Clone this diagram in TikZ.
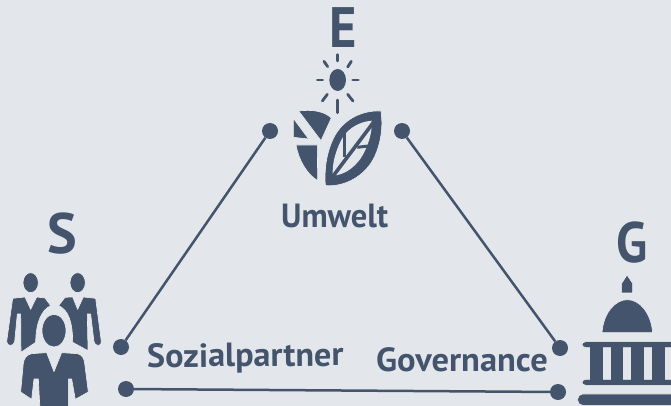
\documentclass[tikz,border=0pt]{standalone}
\usepackage{fontspec}
\setmainfont{PT Sans}
\definecolor{bgc}{HTML}{E3E7EB}
\definecolor{ink}{HTML}{43546C}
\definecolor{halo}{HTML}{EDF0F2}
\tikzset{
  dot/.style={circle,fill=ink,inner sep=0pt,minimum size=16pt},
  link/.style={draw=ink,line width=2.5pt},
  lab/.style={inner sep=0pt,text=ink,anchor=base west,font=\fontsize{33.5}{33.5}\selectfont\bfseries},
  letter/.style={inner sep=0pt,text=ink,anchor=base west,font=\fontsize{57}{57}\selectfont\bfseries},
  solid ink/.style={fill=ink,draw=halo,line width=0.6pt,line join=round},
  ray/.style={draw=ink,line width=2.8pt,line cap=round},
  zoomed/.style={x=0.3333pt,y=-0.3333pt}
}
\begin{document}
\begin{tikzpicture}[x=1pt,y=-1pt]
\fill[bgc] (0,0) rectangle (671,406);
\useasboundingbox (0,0) rectangle (671,406);
\clip (0,0) rectangle (671,406);
% connectors
\node[dot] (el) at (270,131) {};
\node[dot] (er) at (402,131) {};
\node[dot] (sa) at (121,347) {};
\node[dot] (sb) at (126,389) {};
\node[dot] (ga) at (560,348) {};
\node[dot] (gb) at (558,392) {};
\draw[link] (el) -- (sa);
\draw[link] (er) -- (ga);
\draw[link] (sb) -- (gb);
% letters
\node[letter] (le) at (329,48) {\scalebox{0.92}[1]{E}};
\node[letter] (ls) at (47,253) {\scalebox{0.98}[1]{S}};
\node[letter] (lg) at (616,262) {\scalebox{0.9}[1]{G}};
% labels
\node[lab] (umw) at (281,227) {\scalebox{0.97}[1]{Umwelt}};
\node[lab,rotate=0.5] (soz) at (147,367.5) {\scalebox{1.02}[1]{Sozialpartner}};
\node[lab] (gov) at (376,371) {\scalebox{1.03}[1]{Governance}};
% E icon
\begin{scope}[shift={(270,0)},zoomed]
\fill[ink] (203,240) ellipse (25 and 33);
\draw[ray] (203,164) -- (203,183);
\draw[ray] (203,300) -- (203,338);
\draw[ray] (142,240) -- (158,240);
\draw[ray] (248,240) -- (265,240);
\draw[ray] (162,184) -- (173,200);
\draw[ray] (244,184) -- (233,201);
\draw[ray] (172,283) -- (157,303);
\draw[ray] (233,283) -- (249,303);
\path[solid ink] (86,333) .. controls (125,328) and (162,333) .. (184,354) -- (153,422) -- cycle;
\path[solid ink] (70,355) -- (116,417) -- (70,412) -- cycle;
\path[solid ink] (78,435) -- (142,435) -- (143,542) .. controls (110,522) and (86,480) .. cycle;
\path[solid ink] (333,333) .. controls (270,330) and (213,363) .. (188,420) .. controls (168,465) and (163,510) .. (166,557) .. controls (225,562) and (287,527) .. (314,470) .. controls (332,430) and (340,385) .. cycle;
\fill[bgc] (305,362) .. controls (262,366) and (225,390) .. (208,432) .. controls (195,462) and (187,490) .. (188,527) .. controls (225,526) and (265,497) .. (285,452) .. controls (297,427) and (307,395) .. cycle;
\draw[ink,line width=3.6pt] (188,530) -- (312,365);
\draw[ink,line width=3pt] (225,392) -- (225,472);
\draw[ink,line width=3pt] (262,442) -- (305,437);
\end{scope}
% S icon
\begin{scope}[shift={(0,210)},zoomed]
\path[solid ink] (92,218) ellipse (23 and 30);
\path[solid ink] (233,218) ellipse (23 and 30);
\path[solid ink] (38,265) -- (75,261) -- (92,298) -- (110,261) -- (135,264) -- (152,287) .. controls (125,300) and (108,335) .. (107,397) -- (63,427) -- (62,312) -- (52,312) -- (44,395) .. controls (42,410) and (20,410) .. (20,395) -- cycle;
\path[solid ink] (287,265) -- (250,261) -- (233,298) -- (218,261) -- (195,262) -- (176,287) .. controls (205,300) and (218,335) .. (218,397) -- (264,422) -- (262,312) -- (272,312) -- (282,395) .. controls (284,410) and (306,410) .. (304,395) -- cycle;
\path[fill=bgc] (162,362) ellipse (44 and 58);
\path[solid ink] (162,362) ellipse (36 and 49);
\path[solid ink] (95,431) -- (140,428) -- (162,485) -- (185,428) -- (232,431) .. controls (247,434) and (252,445) .. (254,460) -- (265,546) -- (226,568) -- (215,507) -- (205,507) -- (205,600) -- (120,600) -- (115,507) -- (102,507) -- (95,568) -- (62,546) -- (70,460) .. controls (72,445) and (80,434) .. cycle;
\end{scope}
% G icon
\begin{scope}[shift={(540,220)},zoomed]
\path[solid ink] (261,165) -- (278,190) -- (278,219) -- (245,219) -- (245,190) -- cycle;
\path[solid ink] (186,338) .. controls (190,280) and (225,239) .. (262,239) .. controls (300,239) and (333,280) .. (338,338) -- cycle;
\path[solid ink,rounded corners=4pt] (125,365) -- (420,365) -- (420,383) -- (125,383) -- cycle;
\path[solid ink,rounded corners=4pt] (125,478) -- (420,478) -- (420,496) -- (125,496) -- cycle;
\path[solid ink,rounded corners=5pt] (113,522) -- (420,522) -- (420,556) -- (113,556) -- cycle;
\foreach \a/\b in {150/190,212/250,272/312,335/375}
  \fill[ink] (\a,381) rectangle (\b,480);
\end{scope}
\end{tikzpicture}
\end{document}
